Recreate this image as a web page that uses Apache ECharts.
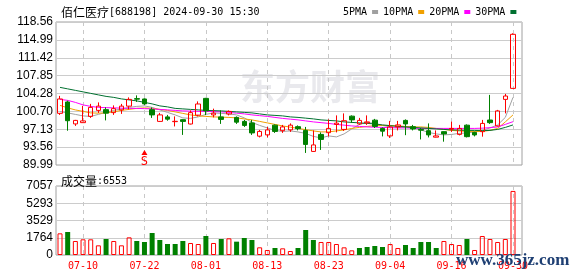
<!DOCTYPE html>
<html>
<head>
<meta charset="utf-8">
<script src="https://cdn.jsdelivr.net/npm/echarts@6/dist/echarts.min.js"></script>
<style>
    html, body { margin: 0; padding: 0; background: #fff; }
    #kline { width: 578px; height: 276px; }
</style>
</head>
<body>
<div id="kline"></div>
<script>
/**
 * K线图 佰仁医疗 688198 (日线 + 成交量)
 */

var color_rojo = '#ff0000';
var color_verde = '#008000';
var color_ma5 = '#a0a0a0';
var color_ma10 = '#f0a000';
var color_ma20 = '#ff00ff';
var color_ma30 = '#007030';
var fuente_mono = 'DejaVu Sans Mono';
var fuente_cjk = 'Noto Sans CJK SC';

var titulo = '佰仁医疗';
var codigo = '[688198] 2024-09-30 15:30';

var fechas = [
    '07-05', '07-08', '07-09', '07-10', '07-11', '07-12', '07-15', '07-16', '07-17', '07-18',
    '07-19', '07-22', '07-23', '07-24', '07-25', '07-26', '07-29', '07-30', '07-31', '08-01',
    '08-02', '08-05', '08-06', '08-07', '08-08', '08-09', '08-12', '08-13', '08-14', '08-15',
    '08-16', '08-19', '08-20', '08-21', '08-22', '08-23', '08-26', '08-27', '08-28', '08-29',
    '08-30', '09-02', '09-03', '09-04', '09-05', '09-06', '09-09', '09-10', '09-11', '09-12',
    '09-13', '09-16', '09-19', '09-20', '09-23', '09-24', '09-25', '09-26', '09-27', '09-30'
];

// [apertura, cierre, minimo, maximo]
var velas = [
    [100.31, 103.18, 100.00, 103.80], [102.58, 98.84, 96.84, 102.84], [98.20, 98.90, 97.80, 99.00],
    [98.45, 98.80, 98.40, 101.80], [99.70, 101.50, 99.40, 102.20], [100.90, 101.75, 100.40, 102.50],
    [101.05, 100.35, 98.90, 101.50], [100.45, 101.25, 100.00, 101.90], [101.00, 101.75, 100.20, 102.20],
    [101.75, 103.10, 101.10, 103.50], [103.25, 103.15, 102.60, 103.90], [103.18, 102.20, 102.00, 103.30],
    [101.05, 100.00, 99.40, 101.50], [98.70, 100.00, 98.60, 100.40], [99.60, 99.15, 98.84, 100.00],
    [98.65, 98.72, 97.70, 99.70], [99.04, 98.70, 96.00, 99.10], [98.18, 100.45, 98.10, 100.90],
    [99.95, 102.18, 99.70, 102.70], [103.30, 100.80, 99.95, 103.40], [100.00, 100.35, 99.50, 101.25],
    [99.60, 99.10, 98.20, 100.90], [100.18, 100.70, 99.90, 100.90], [99.50, 98.55, 98.20, 99.70],
    [98.70, 97.90, 97.60, 99.00], [98.40, 96.40, 96.00, 99.00], [95.75, 96.70, 95.50, 97.00],
    [96.00, 97.00, 95.50, 97.60], [97.95, 96.70, 96.40, 98.10], [96.85, 97.60, 96.40, 98.00],
    [97.00, 97.95, 96.60, 98.30], [97.65, 97.25, 96.90, 97.90], [96.90, 94.10, 92.40, 97.60],
    [92.70, 94.00, 92.60, 96.90], [96.10, 95.10, 93.00, 96.50], [96.45, 97.30, 95.70, 99.10],
    [98.10, 98.35, 96.50, 99.90], [97.10, 98.84, 96.80, 100.30], [99.75, 99.00, 98.40, 99.90],
    [98.20, 98.90, 98.00, 99.40], [98.40, 98.60, 98.00, 99.90], [98.95, 97.70, 97.40, 99.20],
    [97.30, 96.75, 95.70, 97.50], [95.80, 97.60, 95.40, 98.80], [97.60, 98.00, 96.90, 98.80],
    [98.90, 98.20, 95.95, 99.10], [97.65, 97.20, 96.90, 98.00], [97.10, 96.95, 95.10, 97.40],
    [96.85, 96.00, 95.50, 98.30], [95.55, 95.80, 95.50, 96.90], [96.65, 96.20, 94.65, 96.70],
    [97.15, 97.30, 96.60, 98.65], [96.10, 97.30, 95.90, 98.00], [97.95, 95.65, 95.50, 98.10],
    [96.50, 96.00, 95.70, 96.65], [96.65, 98.30, 95.65, 99.00], [98.98, 98.45, 98.20, 104.00],
    [97.80, 100.80, 97.70, 101.00], [103.10, 103.77, 100.30, 104.20], [105.30, 116.10, 105.30, 116.30]
];

var ma5 = [
    100.65, 100.40, 100.10, 99.80, 99.70, 100.10, 100.50, 100.90, 101.20, 101.50,
    101.70, 101.80, 101.50, 101.00, 100.50, 100.00, 99.40, 99.30, 99.60, 100.10,
    100.40, 100.30, 100.20, 100.00, 99.40, 98.50, 97.90, 97.40, 96.90, 96.70,
    96.80, 96.60, 96.30, 95.70, 95.40, 95.80, 95.60, 96.20, 97.20, 98.10,
    98.50, 98.30, 97.90, 97.60, 97.50, 97.60, 97.40, 97.00, 96.50, 96.20,
    96.00, 96.10, 96.30, 96.40, 96.60, 96.90, 97.40, 98.00, 99.50, 103.50
];
var ma10 = [
    101.90, 101.40, 101.00, 100.70, 100.40, 100.35, 100.40, 100.60, 100.90, 101.10,
    101.30, 101.40, 101.30, 101.10, 100.90, 100.60, 100.30, 100.00, 99.80, 99.70,
    99.60, 99.55, 99.50, 99.40, 99.20, 99.00, 98.70, 98.40, 98.10, 97.80,
    97.55, 97.30, 97.05, 96.80, 96.60, 96.60, 96.80, 97.00, 97.30, 97.50,
    97.70, 97.85, 97.90, 97.90, 97.80, 97.70, 97.60, 97.60, 97.50, 97.30,
    97.10, 96.90, 96.80, 96.70, 96.65, 96.70, 96.90, 97.30, 98.60, 100.00
];
var ma20 = [
    103.10, 102.90, 102.50, 102.00, 101.70, 101.50, 101.45, 101.40, 101.35, 101.30,
    101.30, 101.25, 101.20, 101.10, 101.00, 100.90, 100.80, 100.75, 100.70, 100.70,
    100.65, 100.60, 100.50, 100.35, 100.20, 100.00, 99.85, 99.70, 99.50, 99.30,
    99.15, 99.00, 98.80, 98.60, 98.45, 98.30, 98.10, 97.95, 97.80, 97.70,
    97.60, 97.55, 97.50, 97.45, 97.40, 97.40, 97.35, 97.30, 97.30, 97.30,
    97.30, 97.30, 97.30, 97.30, 97.30, 97.35, 97.45, 97.60, 98.10, 98.65
];
var ma30 = [
    105.50, 105.20, 104.90, 104.60, 104.30, 104.00, 103.70, 103.50, 103.20, 103.00,
    102.80, 102.50, 102.20, 101.80, 101.60, 101.30, 101.20, 101.10, 101.00, 100.90,
    100.85, 100.80, 100.70, 100.60, 100.50, 100.40, 100.20, 100.00, 99.90, 99.80,
    99.60, 99.50, 99.35, 99.20, 99.00, 98.90, 98.80, 98.60, 98.50, 98.40,
    98.30, 98.20, 98.00, 97.85, 97.70, 97.60, 97.50, 97.40, 97.30, 97.20,
    97.10, 97.00, 96.95, 96.90, 96.90, 96.85, 96.90, 97.10, 97.50, 98.00
];

var volumen = [
    2216, 2353, 1432, 1603, 1603, 989, 1637, 1432, 989, 1807,
    1432, 1330, 2250, 1535, 1125, 1125, 1432, 1228, 1125, 1944,
    1228, 1637, 1705, 1364, 1739, 1535, 785, 512, 716, 682,
    409, 716, 2558, 1535, 1330, 1330, 1125, 784, 477, 716,
    818, 921, 818, 1125, 716, 1023, 716, 1330, 1330, 716,
    1432, 1125, 1023, 1637, 512, 1944, 1637, 1330, 1637, 6553
];
// 1 = sube (rojo), 0 = baja (verde)
var volumen_sube = [
    1, 0, 1, 1, 1, 1, 0, 1, 1, 1,
    0, 0, 0, 0, 0, 0, 0, 1, 1, 0,
    1, 0, 1, 0, 0, 0, 1, 1, 0, 1,
    1, 0, 0, 0, 1, 1, 1, 1, 1, 0,
    0, 0, 0, 1, 1, 0, 0, 0, 0, 0,
    1, 1, 1, 0, 1, 1, 1, 1, 1, 1
];

var precio_ticks = ['89.99', '93.56', '97.13', '100.70', '104.28', '107.85', '111.42', '114.99', '118.56'];
var precio_min = 89.99;
var precio_max = 118.56;
var volumen_ticks = ['0', '1764', '3529', '5293', '7057'];
var volumen_max = 7057;

var senal_fecha = '07-22';
var senal_precio = 92.5;


grafico_kline();

/** cada 8 sesiones, contando desde la ultima */
function cada_ocho(index) {
    return (fechas.length - 1 - index) % 8 === 0;
}

/** GRAFICO K-LINE */
function grafico_kline() {
    var chart = echarts.init(document.getElementById('kline'));

    var barras_volumen = volumen.map(function(v, i) {
        if (volumen_sube[i]) {
            return {value: v, itemStyle: {color: 'rgba(0,0,0,0)', borderColor: color_rojo, borderWidth: 1}};
        }
        return {value: v, itemStyle: {color: color_verde}};
    });

    var linea_ma = function(nombre, datos, color) {
        return {
            name: nombre,
            type: 'line',
            xAxisIndex: 1,
            yAxisIndex: 1,
            data: datos,
            symbol: 'none',
            silent: true,
            z: 3,
            lineStyle: {width: 1, color: color},
            itemStyle: {color: color}
        };
    };

    var texto_rico = {
        a: {fontFamily: fuente_cjk, fontSize: 12, fontWeight: 'normal', color: '#000'},
        b: {fontFamily: fuente_mono, fontSize: 10, fontWeight: 'normal', color: '#000'}
    };

    var grid_frame = {show: true, borderColor: '#a0a0a0', borderWidth: 1, backgroundColor: 'rgba(0,0,0,0)'};

    var option = {
        animation: false,
        title: [
            {
                text: '{a|' + titulo + '}{b|' + codigo + '}',
                left: 56,
                top: 1,
                textStyle: {fontWeight: 'normal', rich: texto_rico}
            },
            {
                text: '{a|成交量}{b|:' + volumen[volumen.length - 1] + '}',
                left: 56,
                top: 170,
                textStyle: {fontWeight: 'normal', rich: texto_rico}
            }
        ],
        legend: {
            left: 338,
            top: 2,
            align: 'right',
            icon: 'rect',
            itemWidth: 6,
            itemHeight: 4,
            itemGap: 5,
            selectedMode: false,
            textStyle: {fontFamily: fuente_mono, fontSize: 10, color: '#000'},
            data: ['5PMA', '10PMA', '20PMA', '30PMA']
        },
        graphic: [
            {
                type: 'text',
                left: 240,
                top: 69,
                z: -10,
                silent: true,
                style: {text: '东方财富', fontFamily: fuente_cjk, fontWeight: 'bold', fontSize: 35, fill: '#e9e9ed'}
            },
            {
                type: 'text',
                left: 456,
                top: 252,
                z: 100,
                silent: true,
                style: {text: 'www.365jz.com', fontFamily: 'Liberation Serif', fontWeight: 'bold', fontSize: 17, fill: '#1e3f73'}
            }
        ],
        grid: [
            Object.assign({left: 56, right: 56, top: 22, bottom: 111}, grid_frame),
            {left: 60, right: 65, top: 22, bottom: 111},
            Object.assign({left: 56, right: 56, top: 186, bottom: 21}, grid_frame),
            {left: 60, right: 65, top: 186, bottom: 21}
        ],
        xAxis: [
            {gridIndex: 0, type: 'value', min: 0, max: 1, show: false},
            {
                gridIndex: 1,
                type: 'category',
                data: fechas,
                boundaryGap: false,
                axisLine: {show: false},
                axisTick: {show: false},
                axisLabel: {show: false},
                splitLine: {show: true, interval: cada_ocho, lineStyle: {color: '#c8c8c8', type: [4, 4]}}
            },
            {gridIndex: 2, type: 'value', min: 0, max: 1, show: false},
            {
                gridIndex: 3,
                type: 'category',
                data: fechas,
                boundaryGap: false,
                axisLine: {show: false},
                axisTick: {show: false},
                axisLabel: {
                    show: true,
                    interval: cada_ocho,
                    color: color_rojo,
                    fontFamily: fuente_mono,
                    fontSize: 10,
                    margin: 6
                },
                splitLine: {show: true, interval: cada_ocho, lineStyle: {color: '#c8c8c8', type: [4, 4]}}
            }
        ],
        yAxis: [
            {
                gridIndex: 0,
                type: 'value',
                min: 0,
                max: precio_ticks.length - 1,
                interval: 1,
                axisLine: {show: false},
                axisTick: {show: false},
                axisLabel: {
                    margin: 3,
                    color: '#000',
                    fontFamily: 'Liberation Sans',
                    fontSize: 12,
                    formatter: function(v) { return precio_ticks[v]; }
                },
                splitLine: {show: true, lineStyle: {color: '#cccccc'}}
            },
            {gridIndex: 1, type: 'value', min: precio_min, max: precio_max, show: false},
            {
                gridIndex: 2,
                type: 'value',
                min: 0,
                max: volumen_ticks.length - 1,
                interval: 1,
                axisLine: {show: false},
                axisTick: {show: false},
                axisLabel: {
                    margin: 3,
                    color: '#000',
                    fontFamily: 'Liberation Sans',
                    fontSize: 12,
                    formatter: function(v) { return volumen_ticks[v]; }
                },
                splitLine: {show: true, lineStyle: {color: '#cccccc'}}
            },
            {gridIndex: 3, type: 'value', min: 0, max: volumen_max, show: false}
        ],
        series: [
            {
                name: 'K',
                type: 'candlestick',
                xAxisIndex: 1,
                yAxisIndex: 1,
                data: velas,
                barWidth: 5,
                clip: false,
                z: 4,
                itemStyle: {
                    color: 'rgba(0,0,0,0)',
                    color0: color_verde,
                    borderColor: color_rojo,
                    borderColor0: color_verde,
                    borderWidth: 1
                },
                markPoint: {
                    silent: true,
                    data: [
                        {
                            coord: [senal_fecha, senal_precio],
                            symbol: 'triangle',
                            symbolSize: [6, 5],
                            itemStyle: {color: color_rojo},
                            label: {
                                show: true,
                                formatter: 'S',
                                position: 'bottom',
                                distance: 1,
                                color: color_rojo,
                                fontFamily: fuente_mono,
                                fontSize: 12
                            }
                        }
                    ]
                }
            },
            linea_ma('5PMA', ma5, color_ma5),
            linea_ma('10PMA', ma10, color_ma10),
            linea_ma('20PMA', ma20, color_ma20),
            linea_ma('30PMA', ma30, color_ma30),
            {
                name: 'VOL',
                type: 'bar',
                xAxisIndex: 3,
                yAxisIndex: 3,
                data: barras_volumen,
                barWidth: 5,
                silent: true
            }
        ]
    };

    chart.setOption(option);
}
</script>
</body>
</html>
